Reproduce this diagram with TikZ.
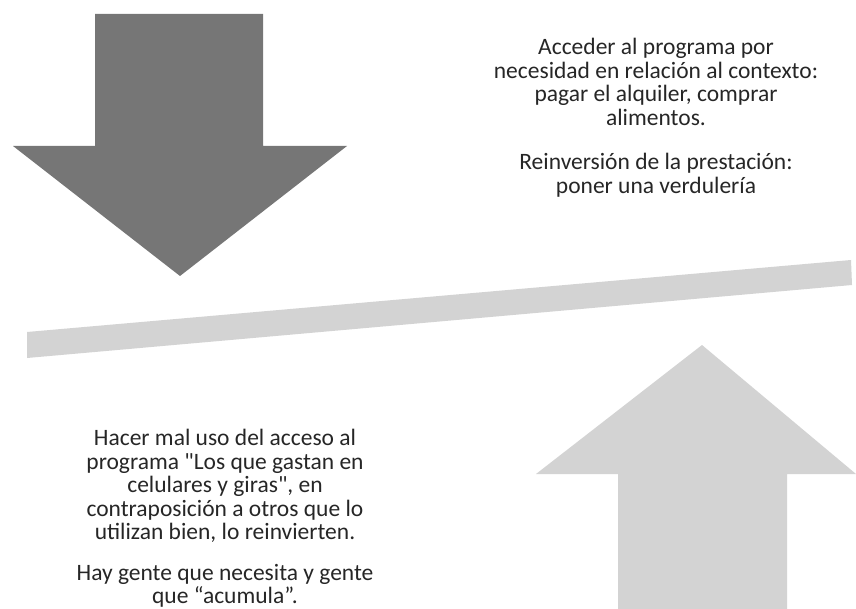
\documentclass[tikz,border=0pt]{standalone}
\usepackage{fontspec}
\setmainfont{Carlito}[Ligatures=TeXOff]
\definecolor{darkarrow}{HTML}{767676}
\definecolor{lightgray}{HTML}{D3D3D3}
\definecolor{txt}{HTML}{262626}
\begin{document}
\begin{tikzpicture}[x=1pt,y=-1pt]
\tikzset{
  darkshape/.style={fill=darkarrow,draw=none},
  lightshape/.style={fill=lightgray,draw=none},
  label/.style={align=center,text=txt,font=\fontsize{23.5}{23.5}\selectfont,inner sep=0pt}
}
\useasboundingbox (0,0) rectangle (856,609);
% down arrow
\fill[darkshape] (95,14) -- (263,14) -- (263,146) -- (347,146) -- (180,276) -- (13,146) -- (95,146) -- cycle;
% bar
\fill[lightshape] (27,332) -- (851,260) -- (852,285) -- (27,358) -- cycle;
% up arrow
\fill[lightshape] (702,345) -- (856,474) -- (787,474) -- (787,609) -- (618,609) -- (618,474) -- (536,474) -- cycle;
% texts
\node[label] (t1) at (656,82) {Acceder al programa por\\necesidad en relación al contexto:\\pagar el alquiler, comprar\\alimentos.};
\node[label] (t2) at (656,175) {Reinversión de la prestación:\\poner una verdulería};
\node[label] (t3) at (225,486) {Hacer mal uso del acceso al\\programa "Los que gastan en\\celulares y giras", en\\contraposición a otros que lo\\utilizan bien, lo reinvierten.};
\node[label] (t4) at (225,586) {Hay gente que necesita y gente\\que “acumula”.};
\end{tikzpicture}
\end{document}
